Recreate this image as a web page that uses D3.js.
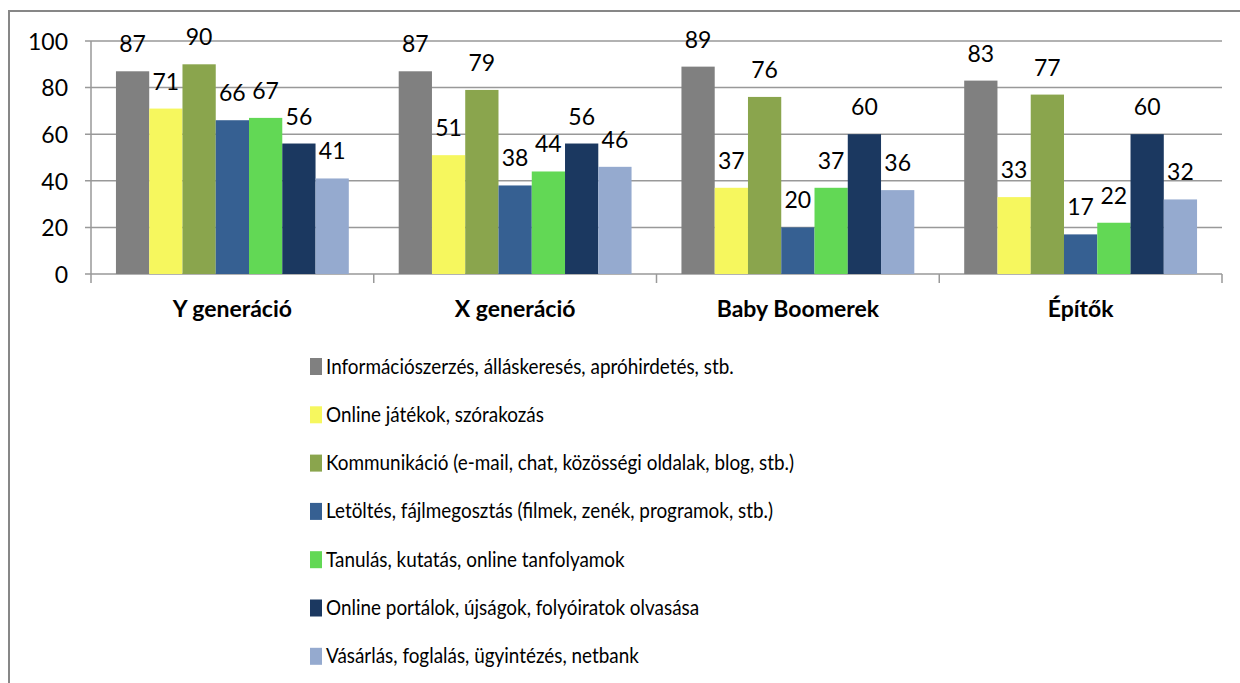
<!DOCTYPE html>
<html><head><meta charset="utf-8">
<script src="https://cdn.jsdelivr.net/npm/d3@7"></script>
<style>
body{margin:0;background:#fff;}
svg text{font-family:Lato,"Open Sans",sans-serif;fill:#000;}
</style></head><body>
<svg id="c" width="1240" height="683"></svg>
<script>
const categories = ["Y generáció","X generáció","Baby Boomerek","Építők"];
const seriesNames = [
 "Információszerzés, álláskeresés, apróhirdetés, stb.",
 "Online játékok, szórakozás",
 "Kommunikáció (e-mail, chat, közösségi oldalak, blog, stb.)",
 "Letöltés, fájlmegosztás (filmek, zenék, programok, stb.)",
 "Tanulás, kutatás, online tanfolyamok",
 "Online portálok, újságok, folyóiratok olvasása",
 "Vásárlás, foglalás, ügyintézés, netbank"
];
const seriesColors = ["#808080","#f6f75e","#8aa54d","#366092","#62d855","#1b3860","#95aacf"];
const infoValues   = [87,87,89,83];
const gamesValues  = [71,51,37,33];
const commValues   = [90,79,76,77];
const downValues   = [66,38,20,17];
const learnValues  = [67,44,37,22];
const portalValues = [56,56,60,60];
const shopValues   = [41,46,36,32];
const yTicks = [0,20,40,60,80,100];

const seriesValues = [infoValues,gamesValues,commValues,downValues,learnValues,portalValues,shopValues];

const svg = d3.select("#c");
svg.append("path").attr("d","M9,683 L9,11 L1240,11").attr("fill","none").attr("stroke","#878787").attr("stroke-width",2);

const pL=91, pR=1222, pT=41, pB=274;
const y = d3.scaleLinear().domain([0,100]).range([pB,pT]);
const x0 = d3.scaleBand().domain(categories).range([pL,pR]).padding(0);
const x1 = d3.scaleBand().domain(d3.range(seriesNames.length)).range([0,x0.bandwidth()]).paddingInner(0).paddingOuter(0.75);

svg.append("g").selectAll("line").data(yTicks).join("line")
 .attr("x1",pL-6).attr("x2",pR).attr("y1",d=>y(d)).attr("y2",d=>y(d))
 .attr("stroke","#999").attr("stroke-width",1.5);

const yAxis = d3.axisLeft(y).tickValues(yTicks).tickSize(6).tickPadding(17);
const ga = svg.append("g").attr("transform",`translate(${pL},0)`).call(yAxis);
ga.select(".domain").attr("stroke","#999").attr("stroke-width",1.5).attr("d",`M0,${pT}V${pB}`);
ga.selectAll(".tick line").remove();
ga.selectAll(".tick text").attr("font-family","Lato").attr("font-size",23).attr("fill","#000").attr("dy","0.36em");

const groups = svg.append("g").selectAll("g").data(categories).join("g")
 .attr("transform",d=>`translate(${x0(d)},0)`);
groups.selectAll("rect").data((c,ci)=>seriesValues.map((vals,si)=>({si,v:vals[ci]}))).join("rect")
 .attr("x",d=>x1(d.si)).attr("width",x1.bandwidth())
 .attr("y",d=>y(d.v)).attr("height",d=>pB-y(d.v))
 .attr("fill",d=>seriesColors[d.si]);
groups.selectAll("text").data((c,ci)=>seriesValues.map((vals,si)=>({si,v:vals[ci]}))).join("text")
 .attr("x",d=>x1(d.si)+x1.bandwidth()/2).attr("y",d=>y(d.v)-19)
 .attr("text-anchor","middle").attr("font-size",23).text(d=>d.v);

const xb = categories.map(c=>x0(c)).concat([pR]);
svg.append("g").selectAll("line").data(xb).join("line")
 .attr("x1",d=>d).attr("x2",d=>d).attr("y1",pB).attr("y2",pB+9)
 .attr("stroke","#999").attr("stroke-width",1.5);
svg.append("g").selectAll("text").data(categories).join("text")
 .attr("x",d=>x0(d)+x0.bandwidth()/2).attr("y",317)
 .attr("text-anchor","middle").attr("font-size",23).attr("font-weight","bold").text(d=>d);

const sx = 0.9;
const lg = svg.append("g").selectAll("g").data(seriesNames).join("g")
 .attr("transform",(d,i)=>`translate(310,${366+i*48.3})`);
lg.append("rect").attr("x",0).attr("y",-8).attr("width",12).attr("height",17).attr("fill",(d,i)=>seriesColors[i]);
lg.append("text").attr("y",0).attr("dy","0.36em").attr("font-size",21)
 .attr("transform",`scale(${sx},1)`).attr("x",16/sx).text(d=>d);
</script>
</body></html>
